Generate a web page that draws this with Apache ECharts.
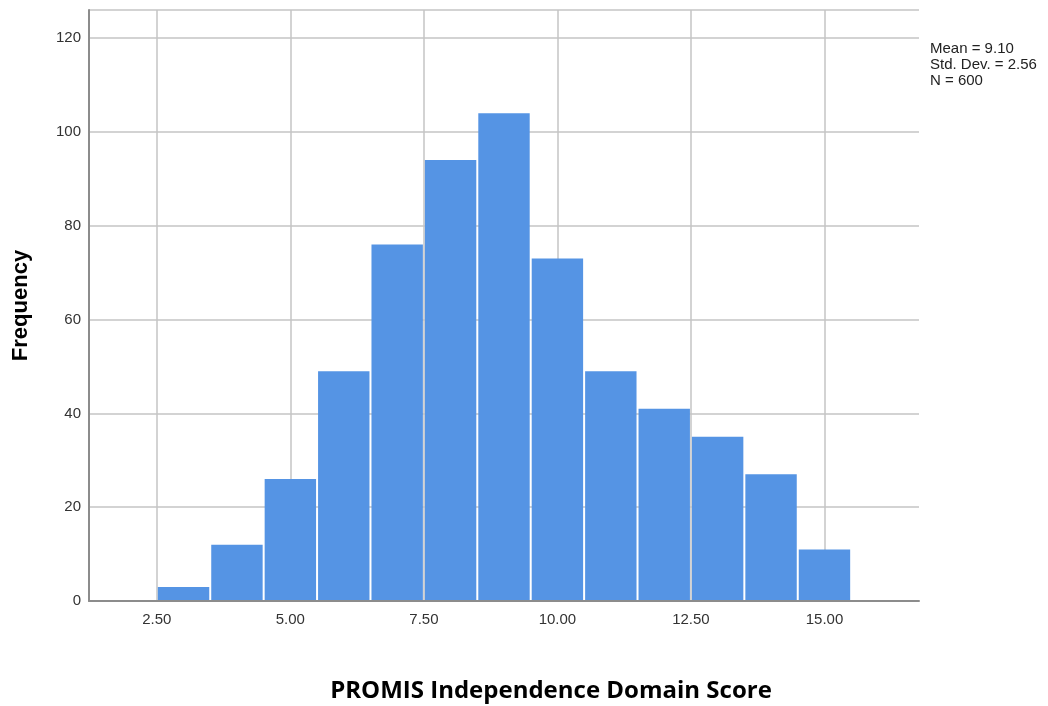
<!DOCTYPE html>
<html>
<head>
<meta charset="utf-8">
<script src="https://cdn.jsdelivr.net/npm/echarts@6/dist/echarts.min.js"></script>
<style>
  html, body { margin: 0; padding: 0; background: #fff; }
  #main { width: 1048px; height: 706px; }
</style>
</head>
<body>
<div id="main"></div>
<script>
// histogram bins (lower edge, upper edge) and counts
var binStarts = [2.5, 3.5, 4.5, 5.5, 6.5, 7.5, 8.5, 9.5, 10.5, 11.5, 12.5, 13.5, 14.5];
var binEnds = [3.5, 4.5, 5.5, 6.5, 7.5, 8.5, 9.5, 10.5, 11.5, 12.5, 13.5, 14.5, 15.5];
var counts = [3, 12, 26, 49, 76, 94, 104, 73, 49, 41, 35, 27, 11];
var xTicks = [2.5, 5, 7.5, 10, 12.5, 15];
var statsLines = ['Mean = 9.10', 'Std. Dev. = 2.56', 'N = 600'];

var chart = echarts.init(document.getElementById('main'));

var barData = counts.map(function (c, i) {
  return [binStarts[i], binEnds[i], c];
});

chart.setOption({
  animation: false,
  grid: { left: 89, top: 10, right: 129, bottom: 105, outerBoundsMode: 'none' },
  xAxis: {
    type: 'value',
    min: 1.23,
    max: 16.77,
    axisLine: { show: true, lineStyle: { color: '#8c8c8c', width: 2 } },
    axisTick: { show: false, customValues: xTicks },
    splitLine: { show: true, lineStyle: { color: '#c4c4c4', width: 1.5 } },
    axisLabel: {
      margin: 11,
      color: '#333',
      fontSize: 15,
      fontFamily: 'Liberation Sans',
      customValues: xTicks,
      formatter: function (v) { return v.toFixed(2); }
    },
    name: 'PROMIS Independence Domain Score',
    nameLocation: 'middle',
    nameGap: 78,
    nameTextStyle: {
      color: '#000',
      fontSize: 24,
      fontWeight: 'bold',
      fontFamily: 'Open Sans',
      padding: [0, 0, 0, 94]
    }
  },
  yAxis: {
    type: 'value',
    min: 0,
    max: 126,
    interval: 20,
    axisLine: { show: true, lineStyle: { color: '#8c8c8c', width: 2 } },
    axisTick: { show: false },
    splitLine: { show: true, lineStyle: { color: '#c4c4c4', width: 1.5 } },
    axisLabel: {
      margin: 8,
      color: '#333',
      fontSize: 15,
      fontFamily: 'Liberation Sans',
      showMaxLabel: false
    },
    name: 'Frequency',
    nameLocation: 'middle',
    nameGap: 57,
    nameTextStyle: {
      color: '#000',
      fontSize: 22,
      fontWeight: 'bold',
      fontFamily: 'Liberation Sans'
    }
  },
  graphic: [{
    type: 'text',
    left: 930,
    top: 41,
    style: {
      text: statsLines.join('\n'),
      fill: '#222',
      font: '15px "Liberation Sans"',
      lineHeight: 16
    }
  }],
  series: [{
    type: 'custom',
    data: barData,
    encode: { x: [0, 1], y: 2 },
    renderItem: function (params, api) {
      var p0 = api.coord([api.value(0), api.value(2)]);
      var p1 = api.coord([api.value(1), 0]);
      // leave a thin white gap between bars, stop above the axis line
      return {
        type: 'rect',
        shape: {
          x: p0[0] + 1,
          y: p0[1],
          width: p1[0] - p0[0] - 2,
          height: p1[1] - p0[1] - 1
        },
        style: { fill: '#5594e4' }
      };
    }
  }]
});
</script>
</body>
</html>
